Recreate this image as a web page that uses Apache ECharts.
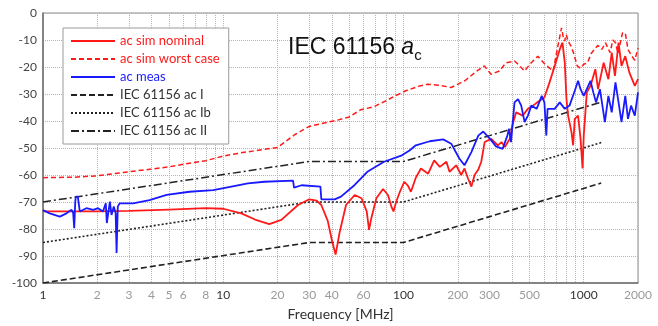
<!DOCTYPE html>
<html>
<head>
<meta charset="utf-8">
<script src="https://cdn.jsdelivr.net/npm/echarts@6/dist/echarts.min.js"></script>
<style>
  html, body { margin: 0; padding: 0; background: #fff; }
  #chart { width: 658px; height: 326px; }
</style>
</head>
<body>
<div id="chart"></div>
<script>
// frequencies in MHz, values in dB
const nomFreq = [1, 2, 3, 5, 8, 10, 12.6, 15, 18, 21, 26, 30, 33, 35, 38, 40, 42, 44.3, 48, 53.6, 58.5, 62.5, 64.4, 66.3, 70.7, 77, 82, 86, 88, 91, 95.5, 101, 106, 110, 117, 125, 137, 148, 159, 173, 180, 196, 209, 218, 228, 238, 248, 260, 270, 282, 307, 334, 350, 365, 389, 404, 422, 458, 490, 523, 568, 605, 646, 690, 736, 762, 785, 802, 819, 855, 873, 892, 930, 960, 985, 1000, 1040, 1090, 1160, 1200, 1290, 1370, 1430, 1490, 1560, 1620, 1700, 1790, 1920, 2000];
const nomVal = [-73.5, -73.5, -73.3, -72.8, -72.3, -72.5, -74.2, -76.5, -78.2, -76.6, -71.1, -69, -69.5, -71.1, -77, -84, -89.5, -81, -71.1, -67.4, -68.6, -73.5, -80.3, -76, -68.6, -65.2, -67.4, -72, -73.5, -70, -66.2, -62.5, -64, -66.2, -61, -57.6, -59.5, -54.6, -57, -55.1, -58.8, -56.4, -60, -57.6, -61.3, -64.3, -60, -58, -55.1, -47.8, -46.6, -49, -47.8, -49.6, -46.6, -41, -36.8, -38, -35.5, -34.3, -32.5, -31.3, -25.7, -19.6, -13.5, -11, -18.4, -31.9, -38, -44.1, -49, -39.2, -38, -46.6, -57.6, -45.4, -29.4, -27, -20.8, -28.2, -18.4, -24.5, -14.7, -23.3, -11, -19.6, -16, -22, -27, -24.5];

const worstFreq = [1, 1.5, 2, 3, 4, 5, 6, 8, 10, 12, 15, 20, 25, 30, 35, 44, 50, 58, 68, 80, 90, 103, 123, 136, 160, 184, 220, 255, 281, 306, 340, 370, 413, 440, 469, 510, 556, 610, 676, 720, 753, 770, 783, 800, 820, 850, 880, 920, 960, 1000, 1050, 1100, 1160, 1200, 1260, 1320, 1400, 1450, 1500, 1550, 1640, 1700, 1760, 1850, 1920, 2000];
const worstVal = [-61, -60.8, -60.3, -58.8, -57.8, -57, -56, -54.7, -53, -52, -51, -49.8, -45, -42, -41, -39.5, -38.5, -35.8, -34.8, -32.5, -30.7, -28.8, -27, -26.4, -26.8, -27.6, -25, -21.5, -19.6, -22.7, -21.5, -18.5, -17.8, -19.5, -21.5, -18.5, -16, -19, -21.5, -12, -5.5, -9, -10.4, -8, -10.5, -12.3, -15, -19.6, -20.5, -19, -18.4, -15, -13, -12, -13.5, -11, -14.7, -10, -11, -15, -7.4, -7.4, -13.5, -16, -17.5, -13];

const measFreq = [1, 1.09, 1.24, 1.35, 1.44, 1.47, 1.49, 1.51, 1.52, 1.56, 1.6, 1.74, 1.9, 2.02, 2.15, 2.23, 2.26, 2.35, 2.4, 2.47, 2.53, 2.56, 2.6, 2.66, 3.16, 3.9, 4.85, 6.5, 8.8, 11.1, 13.7, 16.9, 24.4, 24.7, 27.2, 34.6, 35, 41.5, 45, 53.6, 63, 78, 98, 108, 117, 140, 166, 184, 204, 218, 238, 260, 277, 302, 326, 355, 377, 385, 395, 413, 432, 450, 470, 490, 512, 548, 585, 605, 620, 630, 690, 736, 785, 834, 892, 930, 960, 1000, 1090, 1130, 1170, 1230, 1310, 1370, 1430, 1500, 1560, 1620, 1700, 1760, 1830, 1920, 2000];
const measVal = [-73, -74.2, -75.4, -74.2, -72.9, -74, -79.7, -70, -68, -68, -73.5, -72.3, -72.9, -72.3, -73.5, -70.5, -77.8, -69.9, -74.8, -71.7, -74.2, -88.9, -71.7, -70.5, -70.5, -69.3, -67.4, -66.2, -65.6, -64.3, -63.1, -62.5, -62.1, -64.7, -63.8, -64.3, -69, -69, -68, -63.7, -58.8, -55.1, -52.7, -50.9, -49, -47.5, -46.8, -48.4, -53.9, -56.4, -51.5, -45.4, -43.9, -46.6, -49.4, -50.3, -45.4, -42.9, -47.8, -33.1, -31.9, -34.3, -40.4, -38, -34.3, -35.5, -30.7, -33.1, -45.4, -35.5, -35.5, -33.1, -35.5, -34.3, -28.8, -25.1, -28.2, -30.7, -25.1, -29.4, -33.1, -28.2, -40.4, -30.7, -36.8, -25.7, -33.1, -40.4, -30.7, -39.2, -34.3, -38, -29.4];

const limFreq = [1, 30, 100, 1250];
const limIVal = [-100, -85, -85, -63];
const limIbVal = [-85, -70, -70, -48];
const limIIVal = [-70, -55, -55, -33];

const xLabelValues = [1, 2, 3, 4, 5, 6, 8, 10, 20, 30, 40, 60, 100, 200, 300, 500, 1000, 2000];
const xGridValues = [1, 2, 3, 4, 5, 6, 7, 8, 9, 10, 20, 30, 40, 50, 60, 70, 80, 90, 100, 200, 300, 400, 500, 600, 700, 800, 900, 1000, 2000];
const decades = [1, 10, 100, 1000];

const zip = (xs, ys) => xs.map((x, i) => [x, ys[i]]);

const RED = "#ff1a1a";
const BLUE = "#1a1aff";
const BLACK = "#222";
const FONT = "Lato";
const TITLE_FONT = "Liberation Sans";

const chart = echarts.init(document.getElementById("chart"), null, { renderer: "canvas" });

function line(name, data, color, width, type, z) {
  return {
    name,
    type: "line",
    data,
    symbol: "none",
    showSymbol: false,
    z,
    lineStyle: { color, width, type },
    itemStyle: { color },
  };
}

const option = {
  animation: false,
  backgroundColor: "#fff",
  title: {
    left: 283,
    top: 28,
    text: "{n|IEC 61156 }{a|a}{c|c}",
    textStyle: {
      rich: {
        n: { fontFamily: TITLE_FONT, fontWeight: "normal", fontSize: 23, color: "#111", lineHeight: 30, verticalAlign: "middle" },
        a: { fontFamily: TITLE_FONT, fontWeight: "normal", fontStyle: "italic", fontSize: 23, color: "#111", lineHeight: 30, verticalAlign: "middle" },
        c: { fontFamily: TITLE_FONT, fontWeight: "normal", fontSize: 15, color: "#111", lineHeight: 30, verticalAlign: "bottom" },
      },
    },
  },
  grid: {
    left: 43,
    right: 20,
    top: 13,
    bottom: 41,
    show: true,
    borderColor: "#8a8a8a",
    borderWidth: 1,
  },
  legend: {
    orient: "vertical",
    left: 63,
    top: 28,
    padding: [6, 9, 6, 7],
    itemWidth: 44,
    itemHeight: 14,
    itemGap: 4,
    backgroundColor: "#fff",
    borderColor: "#9a9a9a",
    borderWidth: 1,
    itemStyle: { opacity: 0 },
    textStyle: { fontFamily: FONT, fontSize: 13, lineHeight: 14 },
    data: [
      { name: "ac sim nominal", textStyle: { color: RED } },
      { name: "ac sim worst case", textStyle: { color: RED } },
      { name: "ac meas", textStyle: { color: BLUE } },
      { name: "IEC 61156 ac I", textStyle: { color: "#333" } },
      { name: "IEC 61156 ac Ib", textStyle: { color: "#333" } },
      { name: "IEC 61156 ac II", textStyle: { color: "#333" } },
    ],
  },
  xAxis: {
    type: "log",
    logBase: 10,
    min: 1,
    max: 2000,
    name: "Frequency [MHz]",
    nameLocation: "middle",
    nameGap: 24,
    nameTextStyle: { fontFamily: FONT, fontSize: 14, color: "#333" },
    axisLine: { show: true, onZero: false, lineStyle: { color: "#707070", width: 1.5 } },
    axisTick: { show: false, customValues: xGridValues },
    axisLabel: {
      customValues: xLabelValues,
      margin: 6,
      fontFamily: FONT,
      fontSize: 12,
      hideOverlap: false,
      formatter: (v) => String(Math.round(v)),
      color: (v) => (decades.includes(Math.round(v)) ? "#333" : "#9a9a9a"),
    },
    splitLine: {
      show: true,
      customValues: xGridValues,
      lineStyle: { color: "#b4b4b4", width: 1, type: "dotted" },
    },
  },
  yAxis: {
    type: "value",
    min: -100,
    max: 0,
    interval: 10,
    axisLine: { show: true, lineStyle: { color: "#707070", width: 1.5 } },
    axisTick: { show: false },
    axisLabel: { margin: 6, fontFamily: FONT, fontSize: 12, color: "#444" },
    splitLine: { show: true, lineStyle: { color: "#b4b4b4", width: 1, type: "dotted" } },
  },
  series: [
    line("IEC 61156 ac I", zip(limFreq, limIVal), BLACK, 1.6, [6, 3], 2),
    line("IEC 61156 ac Ib", zip(limFreq, limIbVal), BLACK, 1.6, [2, 2], 2),
    line("IEC 61156 ac II", zip(limFreq, limIIVal), BLACK, 1.5, [8, 3, 2, 3], 2),
    line("ac sim worst case", zip(worstFreq, worstVal), RED, 1.5, [5, 3], 3),
    line("ac sim nominal", zip(nomFreq, nomVal), RED, 1.8, "solid", 4),
    line("ac meas", zip(measFreq, measVal), BLUE, 1.8, "solid", 5),
  ],
};

chart.setOption(option);
</script>
</body>
</html>
